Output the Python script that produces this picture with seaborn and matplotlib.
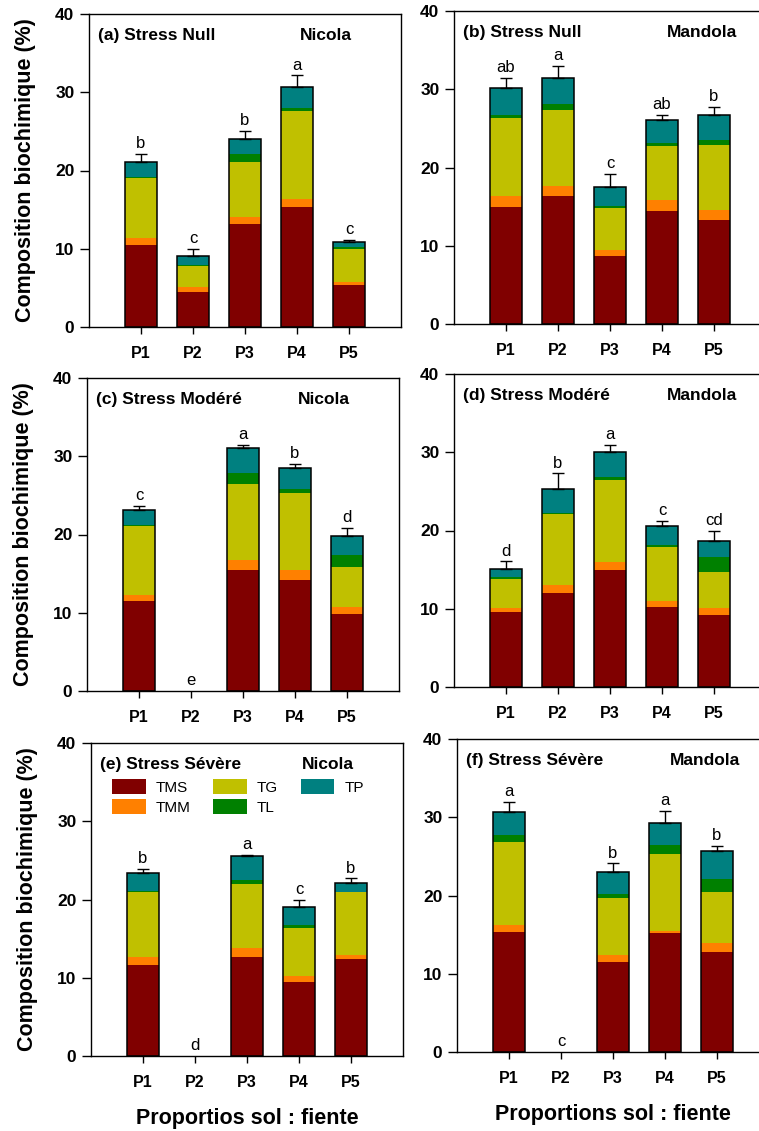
import numpy as np
import matplotlib
matplotlib.use("Agg")
import matplotlib.pyplot as plt
import seaborn as sns
from matplotlib.patches import Patch

# categories and panel labels
cats = ["P1", "P2", "P3", "P4", "P5"]
stress = ["(a) Stress Null", "(b) Stress Null", "(c) Stress Modéré",
          "(d) Stress Modéré", "(e) Stress Sévère", "(f) Stress Sévère"]
variety = ["Nicola", "Mandola", "Nicola", "Mandola", "Nicola", "Mandola"]

# component values (%) per panel, P1..P5
TMS = [[10.5, 4.5, 13.2, 15.3, 5.4],
       [15.0, 16.4, 8.7, 14.5, 13.35],
       [11.5, 0, 15.45, 14.15, 9.8],
       [9.55, 12.0, 14.95, 10.2, 9.25],
       [11.65, 0, 12.65, 9.45, 12.45],
       [15.35, 0, 11.45, 15.15, 12.8]]
TMM = [[0.9, 0.55, 0.9, 1.1, 0.4],
       [1.3, 1.25, 0.75, 1.35, 1.2],
       [0.8, 0, 1.25, 1.3, 0.9],
       [0.5, 1.0, 1.0, 0.8, 0.8],
       [0.95, 0, 1.2, 0.8, 0.45],
       [0.9, 0, 0.9, 0.25, 1.1]]
TG = [[7.7, 2.75, 7.05, 11.2, 4.2],
      [10.05, 9.65, 5.4, 6.85, 8.3],
      [8.75, 0, 9.8, 9.9, 5.1],
      [3.8, 9.05, 10.5, 6.9, 4.65],
      [8.35, 0, 8.15, 6.15, 8.0],
      [10.65, 0, 7.35, 9.95, 6.5]]
TL = [[0.1, 0.1, 0.95, 0.45, 0.2],
      [0.4, 0.85, 0.25, 0.45, 0.7],
      [0.15, 0, 1.4, 0.45, 1.6],
      [0.2, 0.25, 0.4, 0.3, 1.85],
      [0.1, 0, 0.5, 0.3, 0.1],
      [0.8, 0, 0.55, 1.05, 1.65]]
TP = [[1.9, 1.2, 1.9, 2.6, 0.65],
      [3.45, 3.35, 2.4, 2.9, 3.2],
      [1.95, 0, 3.2, 2.7, 2.35],
      [1.0, 2.95, 3.15, 2.4, 2.05],
      [2.4, 0, 3.0, 2.4, 1.05],
      [2.95, 0, 2.8, 2.9, 3.6]]
ERR = [[1.0, 0.85, 1.1, 1.5, 0.3],
       [1.25, 1.5, 1.65, 0.65, 1.0],
       [0.45, 0, 0.35, 0.5, 1.05],
       [1.0, 2.05, 0.9, 0.6, 1.4],
       [0.5, 0, 0.25, 0.85, 0.65],
       [1.3, 0, 1.05, 1.55, 0.7]]
LETTERS = [["b", "c", "b", "a", "c"],
           ["ab", "a", "c", "ab", "b"],
           ["c", "e", "a", "b", "d"],
           ["d", "b", "a", "c", "cd"],
           ["b", "d", "a", "c", "b"],
           ["a", "c", "b", "a", "b"]]

comp_names = ["TMS", "TMM", "TG", "TL", "TP"]
comp_colors = ["#800000", "#FF8000", "#C0C000", "#008000", "#008080"]

sns.set_theme(style="ticks")
plt.rcParams['font.family'] = ['Liberation Sans', 'DejaVu Sans']
plt.rcParams['text.color'] = 'black'
plt.rcParams['axes.labelcolor'] = 'black'

fig = plt.figure(figsize=(7.59, 11.31), dpi=100)
W, H = 759, 1131
# left, top pixel of each axes
corners = [(89, 14), (454, 11), (87, 378), (454, 374), (91, 743), (457, 739)]

for i in range(6):
    left, top = corners[i]
    ax = fig.add_axes([left / W, 1 - (top + 313) / H, 312 / W, 313 / H])
    stack = np.array([TMS[i], TMM[i], TG[i], TL[i], TP[i]])
    cum = np.cumsum(stack, axis=0)
    total = cum[-1]

    # draw cumulative layers from top down
    for k in range(4, -1, -1):
        sns.barplot(x=cats, y=cum[k], color=comp_colors[k], width=0.6,
                    saturation=1, linewidth=0, errorbar=None, ax=ax)
    sns.barplot(x=cats, y=total, color="black", fill=False, width=0.6,
                linewidth=1.1, errorbar=None, ax=ax)
    # hide outline of empty bars
    for bar, t in zip(ax.containers[-1], total):
        if t == 0:
            bar.set_visible(False)

    err = np.array(ERR[i])
    xs = np.arange(5)
    has = total > 0
    ax.errorbar(xs[has], total[has], yerr=[np.zeros(has.sum()), err[has]],
                fmt='none', ecolor='black', elinewidth=1, capsize=4.5,
                capthick=1)
    for j in range(5):
        ax.text(j, total[j] + err[j] + 0.75, LETTERS[i][j], ha='center',
                va='baseline', fontsize=12)

    ax.set_xlim(-1, 5)
    ax.set_ylim(0, 40)
    ax.set_yticks([0, 10, 20, 30, 40])
    ax.set_xlabel("")
    ax.set_ylabel("")
    for s in ax.spines.values():
        s.set_visible(True)
        s.set_color("black")
        s.set_linewidth(1)
    ax.tick_params(axis='y', direction='out', length=6.5, width=1, pad=4,
                   labelsize=12.5, colors='black')
    ax.tick_params(axis='x', direction='out', length=5, width=1, pad=9,
                   labelsize=11.5, colors='black')
    for lab in ax.get_xticklabels() + ax.get_yticklabels():
        lab.set_fontweight('bold')

    ax.text(-0.83, 37.3, stress[i], ha='left', va='center', fontsize=12.5,
            fontweight='bold')
    xr = 4.05 if variety[i] == "Nicola" else 4.45
    ax.text(xr, 37.3, variety[i], ha='right', va='center', fontsize=12.5,
            fontweight='bold')

    if i % 2 == 0:
        ax.set_ylabel("Composition biochimique (%)", fontsize=15.5,
                      fontweight='bold')
        ax.yaxis.set_label_coords(-0.17, 0.5)
    if i == 4:
        ax.set_xlabel("Proportios sol : fiente", fontsize=15.5,
                      fontweight='bold')
        ax.xaxis.set_label_coords(0.5, -0.165)
        handles = [Patch(facecolor=c, edgecolor='none') for c in comp_colors]
        ax.legend(handles, comp_names, ncol=3, loc='upper left',
                  bbox_to_anchor=(0.067, 0.885), frameon=False, fontsize=11,
                  handlelength=2.2, handleheight=1.1, handletextpad=0.65,
                  labelspacing=0.3, columnspacing=1.5, borderpad=0,
                  borderaxespad=0)
    if i == 5:
        ax.set_xlabel("Proportions sol : fiente", fontsize=15.5,
                      fontweight='bold')
        ax.xaxis.set_label_coords(0.5, -0.165)

fig.savefig("out.png", dpi=100)
